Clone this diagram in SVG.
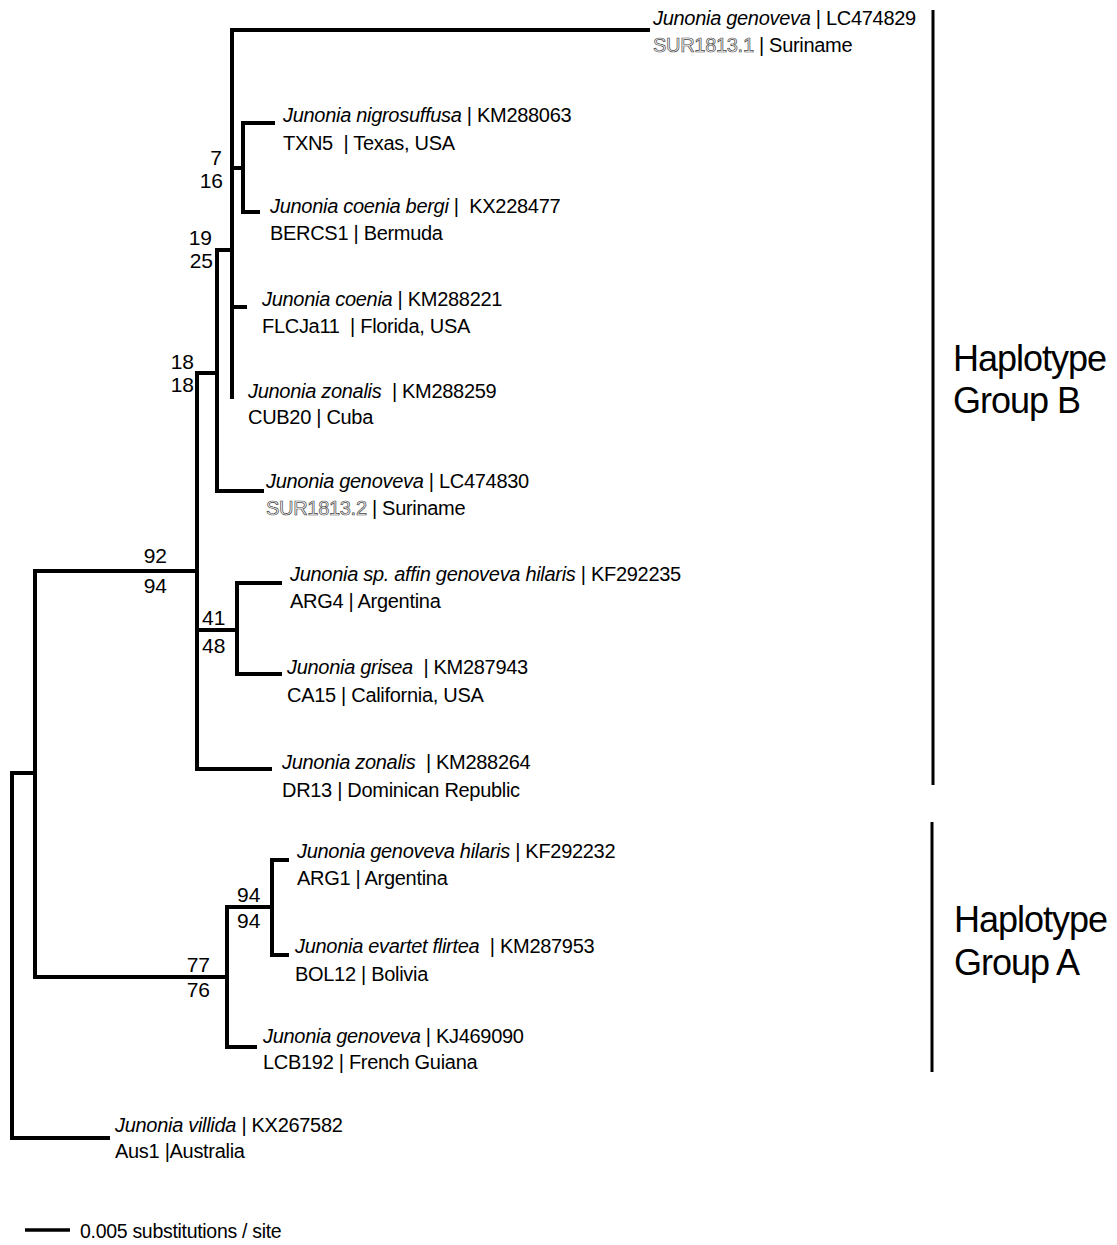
<svg xmlns="http://www.w3.org/2000/svg" width="1117" height="1245" viewBox="0 0 1117 1245">
<style>
.br{stroke:#000;stroke-width:4;fill:none;stroke-linecap:square}
.bar{stroke:#000;stroke-width:3;fill:none}
.t{font-family:"Liberation Sans",Arial,sans-serif;font-size:20px;letter-spacing:-0.3px;fill:#000;white-space:pre}
.i{font-style:italic}
.o{fill:#fff;stroke:#444;stroke-width:0.7px}
.s{font-family:"Liberation Sans",Arial,sans-serif;font-size:21px;fill:#000}
.g{font-family:"Liberation Sans",Arial,sans-serif;font-size:36px;letter-spacing:-1px;fill:#000}
</style>
<rect width="1117" height="1245" fill="#fff"/>
<g id="connectors">
<path class="br" d="M12 773V1138M12 773H35M12 1138H108"/>
<path class="br" d="M35 571V977M35 571H197M35 977H227"/>
<path class="br" d="M197 373V769M197 373H217M197 630H237M197 769H270"/>
<path class="br" d="M217 250V491M217 250H232M217 491H262"/>
<path class="br" d="M232 30V397M232 30H648M232 168H243M232 307H245"/>
<path class="br" d="M243 123V212M243 123H273M243 212H258"/>
<path class="br" d="M237 583V674M237 583H280M237 674H280"/>
<path class="br" d="M227 907V1047M227 907H272M227 1047H255"/>
<path class="br" d="M272 860V955M272 860H287M272 955H287"/>
</g>
<g id="leaf-LC474829"><text class="t" x="653" y="25"><tspan class="i">Junonia genoveva</tspan> | LC474829</text><text class="t" x="653" y="52"><tspan class="o">SUR1813.1</tspan> | Suriname</text></g>
<g id="leaf-KM288063"><text class="t" x="283" y="122"><tspan class="i">Junonia nigrosuffusa</tspan> | KM288063</text><text class="t" x="283" y="150">TXN5  | Texas, USA</text></g>
<g id="leaf-KX228477"><text class="t" x="270" y="213"><tspan class="i">Junonia coenia bergi</tspan> |  KX228477</text><text class="t" x="270" y="240">BERCS1 | Bermuda</text></g>
<g id="leaf-KM288221"><text class="t" x="262" y="306"><tspan class="i">Junonia coenia</tspan> | KM288221</text><text class="t" x="262" y="333">FLCJa11  | Florida, USA</text></g>
<g id="leaf-KM288259"><text class="t" x="248" y="398"><tspan class="i">Junonia zonalis</tspan>  | KM288259</text><text class="t" x="248" y="424">CUB20 | Cuba</text></g>
<g id="leaf-LC474830"><text class="t" x="266" y="488"><tspan class="i">Junonia genoveva</tspan> | LC474830</text><text class="t" x="266" y="515"><tspan class="o">SUR1813.2</tspan> | Suriname</text></g>
<g id="leaf-KF292235"><text class="t" x="290" y="581"><tspan class="i">Junonia sp. affin genoveva hilaris</tspan> | KF292235</text><text class="t" x="290" y="608">ARG4 | Argentina</text></g>
<g id="leaf-KM287943"><text class="t" x="287" y="674"><tspan class="i">Junonia grisea</tspan>  | KM287943</text><text class="t" x="287" y="702">CA15 | California, USA</text></g>
<g id="leaf-KM288264"><text class="t" x="282" y="769"><tspan class="i">Junonia zonalis</tspan>  | KM288264</text><text class="t" x="282" y="797">DR13 | Dominican Republic</text></g>
<g id="leaf-KF292232"><text class="t" x="297" y="858"><tspan class="i">Junonia genoveva hilaris</tspan> | KF292232</text><text class="t" x="297" y="885">ARG1 | Argentina</text></g>
<g id="leaf-KM287953"><text class="t" x="295" y="953"><tspan class="i">Junonia evartet flirtea</tspan>  | KM287953</text><text class="t" x="295" y="981">BOL12 | Bolivia</text></g>
<g id="leaf-KJ469090"><text class="t" x="263" y="1043"><tspan class="i">Junonia genoveva</tspan> | KJ469090</text><text class="t" x="263" y="1069">LCB192 | French Guiana</text></g>
<g id="leaf-KX267582"><text class="t" x="115" y="1132"><tspan class="i">Junonia villida</tspan> | KX267582</text><text class="t" x="115" y="1158">Aus1 |Australia</text></g>
<g id="support-7-16"><text class="s" x="222" y="165" text-anchor="end">7</text><text class="s" x="223" y="188" text-anchor="end">16</text></g>
<g id="support-19-25"><text class="s" x="212" y="245" text-anchor="end">19</text><text class="s" x="213" y="268" text-anchor="end">25</text></g>
<g id="support-18-18"><text class="s" x="194" y="369" text-anchor="end">18</text><text class="s" x="194" y="392" text-anchor="end">18</text></g>
<g id="support-92-94"><text class="s" x="167" y="563" text-anchor="end">92</text><text class="s" x="167" y="593" text-anchor="end">94</text></g>
<g id="support-41-48"><text class="s" x="202" y="625">41</text><text class="s" x="202" y="653">48</text></g>
<g id="support-94-94"><text class="s" x="237" y="902">94</text><text class="s" x="237" y="928">94</text></g>
<g id="support-77-76"><text class="s" x="210" y="972" text-anchor="end">77</text><text class="s" x="210" y="997" text-anchor="end">76</text></g>
<g id="group-B"><line class="bar" x1="933" y1="10" x2="933" y2="785"/><text class="g" x="953" y="371">Haplotype</text><text class="g" x="953" y="413">Group B</text></g>
<g id="group-A"><line class="bar" x1="932" y1="822" x2="932" y2="1072"/><text class="g" x="954" y="932">Haplotype</text><text class="g" x="954" y="975">Group A</text></g>
<g id="scale"><line x1="25" y1="1230" x2="70" y2="1230" stroke="#000" stroke-width="3.5"/><text class="t" x="80" y="1238" style="font-size:19.5px">0.005 substitutions / site</text></g>
</svg>
